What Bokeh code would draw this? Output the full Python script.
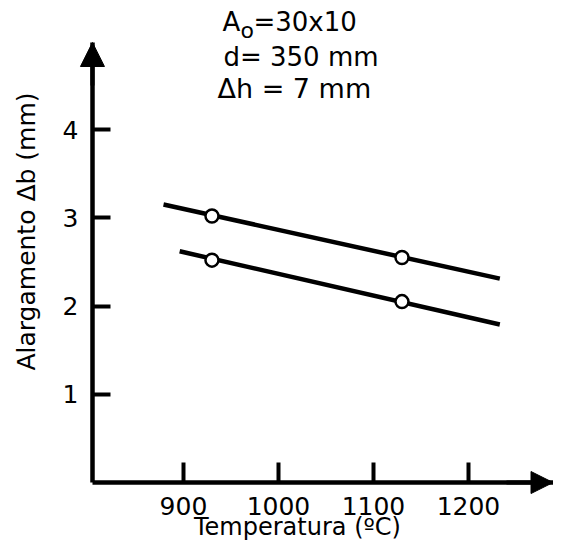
from bokeh.plotting import figure
from bokeh.models import Label, Arrow, NormalHead, FixedTicker, Range1d
from bokeh.embed import file_html
from bokeh.resources import INLINE

# ---- data ----
x_ticks = [900, 1000, 1100, 1200]
y_ticks = [1, 2, 3, 4]
point_temps = [930, 1130]
upper_points = [3.02, 2.55]
lower_points = [2.52, 2.05]
upper_line_x = [879, 1233]
upper_line_y = [3.15, 2.31]
lower_line_x = [896, 1233]
lower_line_y = [2.62, 1.79]
x_title = "Temperatura (ºC)"
y_title = "Alargamento Δb (mm)"
note_lines = ["=30x10", "d= 350 mm", "Δh = 7 mm"]

FONT = "DejaVu Sans"
X0, X1 = 707.4, 1289.5      # canvas extent in data units
Y0, Y1 = -0.691, 5.462
AX_X = 804.2                 # where the y axis sits
Y_TIP = 4.986                # top of the y arrow

p = figure(width=553, height=543, output_backend="svg", toolbar_location=None,
           x_range=Range1d(X0, X1), y_range=Range1d(Y0, Y1), min_border=0)
p.outline_line_color = None
p.xgrid.visible = False
p.ygrid.visible = False
p.background_fill_color = "white"
p.border_fill_color = "white"

p.xaxis[0].fixed_location = 0
p.yaxis[0].fixed_location = AX_X
p.xaxis[0].bounds = (AX_X, X1)
p.yaxis[0].bounds = (0, Y_TIP)

for ax, ticks, tin in ((p.xaxis[0], x_ticks, 20), (p.yaxis[0], y_ticks, 18)):
    ax.ticker = FixedTicker(ticks=ticks)
    ax.minor_tick_line_color = None
    ax.major_tick_in = tin
    ax.major_tick_out = 0
    ax.major_tick_line_width = 4
    ax.major_tick_line_color = "black"
    ax.axis_line_width = 4.5
    ax.axis_line_color = "black"
    ax.major_label_text_font = FONT
    ax.major_label_text_font_size = "25px"
    ax.major_label_text_color = "black"
p.xaxis.major_label_standoff = 14
p.yaxis.major_label_standoff = 14

# lines and measured points
p.line(upper_line_x, upper_line_y, line_width=4.5, line_color="black")
p.line(lower_line_x, lower_line_y, line_width=4.5, line_color="black")
p.scatter(point_temps, upper_points, marker="circle", size=13, line_width=2.5,
          line_color="black", fill_color="white")
p.scatter(point_temps, lower_points, marker="circle", size=13, line_width=2.5,
          line_color="black", fill_color="white")

# axis arrows
p.add_layout(Arrow(end=NormalHead(size=24, fill_color="black", line_color="black"),
                   x_start=AX_X, y_start=4.5, x_end=AX_X, y_end=Y_TIP,
                   line_width=4, line_color="black"))
p.add_layout(Arrow(end=NormalHead(size=22, fill_color="black", line_color="black"),
                   x_start=1240, y_start=0, x_end=X1 - 0.5, y_end=0,
                   line_width=4, line_color="black"))

# axis titles
p.add_layout(Label(x=1020, y=-0.50, text=x_title, text_font=FONT,
                   text_font_size="24px", text_align="center",
                   text_baseline="alphabetic", text_color="black"))
p.add_layout(Label(x=734.6, y=2.844, text=y_title, text_font=FONT,
                   text_font_size="25px", text_align="center",
                   text_baseline="alphabetic", angle=1.5708, text_color="black"))

# parameter notes
p.add_layout(Label(x=941, y=5.223, text="A", text_font=FONT, text_font_size="26px",
                   text_baseline="alphabetic", text_color="black"))
p.add_layout(Label(x=960, y=5.121, text="o", text_font=FONT, text_font_size="22px",
                   text_baseline="alphabetic", text_color="black"))
p.add_layout(Label(x=973.7, y=5.223, text=note_lines[0], text_font=FONT,
                   text_font_size="26px", text_baseline="alphabetic", text_color="black"))
p.add_layout(Label(x=942.1, y=4.82, text=note_lines[1], text_font=FONT,
                   text_font_size="26px", text_baseline="alphabetic", text_color="black"))
p.add_layout(Label(x=935.8, y=4.46, text=note_lines[2], text_font=FONT,
                   text_font_size="27px", text_baseline="alphabetic", text_color="black"))

open("out.html", "w").write(file_html(p, INLINE))
